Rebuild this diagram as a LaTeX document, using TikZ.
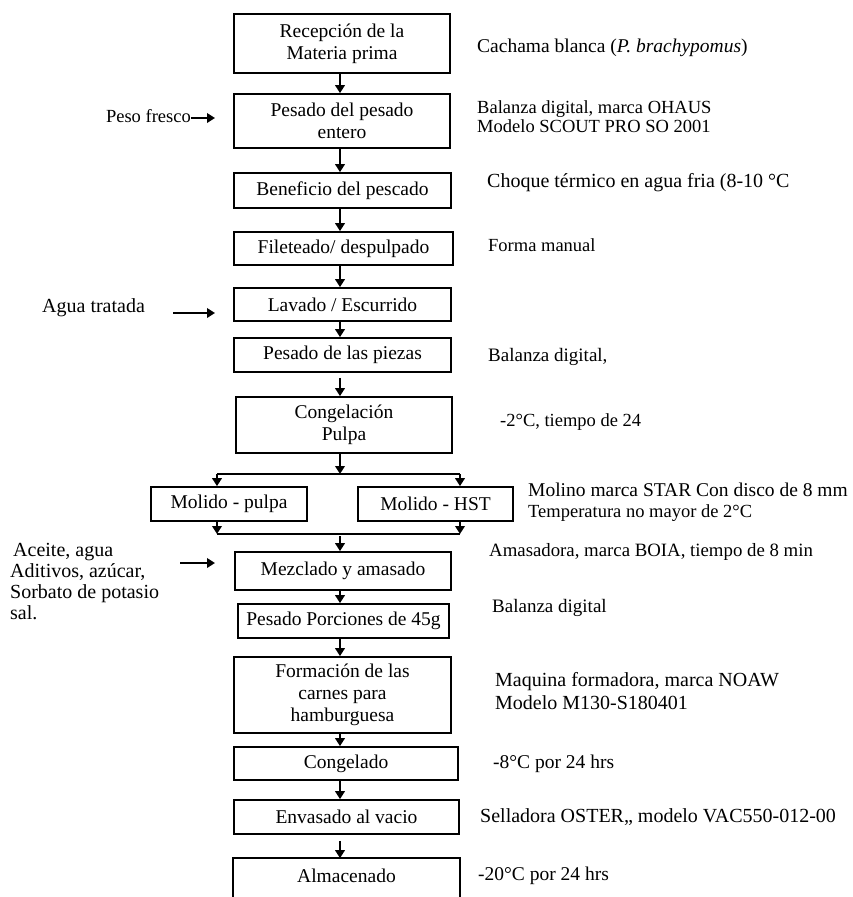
\documentclass[tikz,border=0pt]{standalone}
\usepackage{fontspec}
\setmainfont{Liberation Serif}
\usetikzlibrary{arrows.meta}
\begin{document}
\begin{tikzpicture}[x=1pt,y=-1pt,
  box/.style={draw, line width=1.7pt, inner sep=0pt, align=center, font=\fontsize{19.5}{22}\selectfont},
  lbl/.style={anchor=west, inner sep=0pt, text height=13pt, text depth=4pt, font=\fontsize{19.5}{22}\selectfont},
  arr/.style={line width=2.4pt, -{Triangle[length=8pt,width=9.5pt]}},
  conn/.style={line width=2pt},
  edge/.style={line width=1.7pt}
]
\path[use as bounding box] (0,0) rectangle (853,897);
\clip (0,0) rectangle (853,897);
\coordinate (ax) at (340,0);

% main boxes
\node[box, minimum width=216pt, minimum height=59pt] (rec) at (342,43.5) {Recepción de la\\Materia prima};
\node[box, minimum width=216pt, minimum height=54pt] (pes) at (342,121) {Pesado del pesado\\entero};
\node[box, minimum width=217pt, minimum height=35pt] (ben) at (342.5,190.5) {Beneficio del pescado};
\node[box, minimum width=219pt, minimum height=33pt] (fil) at (343.5,248.5) {Fileteado/ despulpado};
\node[box, minimum width=217pt, minimum height=33pt] (lav) at (342.5,304.5) {Lavado / Escurrido};
\node[box, minimum width=217pt, minimum height=34pt] (pie) at (342.5,355) {Pesado de las piezas};
\node[box, minimum width=216pt, minimum height=56pt] (con) at (344,425) {Congelación\\Pulpa};
\node[box, minimum width=156pt, minimum height=34pt] (mp) at (229,504) {Molido - pulpa};
\node[box, minimum width=155pt, minimum height=34pt] (mh) at (435.5,504) {Molido - HST};
\node[box, minimum width=216pt, minimum height=38pt] (mez) at (343,571) {Mezclado y amasado};
\node[box, minimum width=211pt, minimum height=34pt] (por) at (343.5,621) {Pesado Porciones de 45g};
\node[box, minimum width=217pt, minimum height=76pt] (frm) at (342.5,695) {Formación de las\\carnes para\\hamburguesa};
\node[box, minimum width=224pt, minimum height=33pt] (cgl) at (346,763.5) {Congelado};
\node[box, minimum width=225pt, minimum height=34pt] (env) at (346.5,817) {Envasado al vacio};
\node[box, draw=none, minimum width=225pt, minimum height=34pt] (alm) at (346.5,876) {Almacenado};
\draw[edge] ([yshift=-40pt]alm.south west) -- (alm.north west) -- (alm.north east) -- ([yshift=-40pt]alm.south east);

% vertical connectors
\draw[arr] (rec.south -| ax) -- (pes.north -| ax);
\draw[arr] (pes.south -| ax) -- (ben.north -| ax);
\draw[arr] (ben.south -| ax) -- (fil.north -| ax);
\draw[arr] (fil.south -| ax) -- (lav.north -| ax);
\draw[arr] (lav.south -| ax) -- (pie.north -| ax);
\draw[arr, shorten <=5pt] (pie.south -| ax) -- (con.north -| ax);

% split and join
\coordinate (sl) at (217,474);
\coordinate (sr) at (460,474);
\coordinate (jl) at (217,534);
\coordinate (jr) at (460,534);
\draw[conn] (sl) -- (sr);
\draw[arr] (con.south -| ax) -- (sl -| ax);
\draw[arr] (sl) -- (mp.north -| sl);
\draw[arr] (sr) -- (mh.north -| sr);
\draw[arr] (mp.south -| jl) -- (jl);
\draw[arr] (mh.south -| jr) -- (jr);
\draw[conn] (jl) -- (jr);
\draw[arr, shorten <=2pt] (jl -| ax) -- (mez.north -| ax);

\draw[arr] (mez.south -| ax) -- (por.north -| ax);
\draw[arr] (por.south -| ax) -- (frm.north -| ax);
\draw[arr] (frm.south -| ax) -- (cgl.north -| ax);
\draw[arr] (cgl.south -| ax) -- (env.north -| ax);
\draw[arr, shorten <=6pt] (env.south -| ax) -- (alm.north -| ax);

% left inputs
\node[lbl, anchor=east, font=\fontsize{18.5}{20}\selectfont] (pfl) at (191,118) {Peso fresco};
\coordinate (pft) at (215,118);
\draw[arr] (pfl.east) -- (pft);
\node[lbl, font=\fontsize{20}{22}\selectfont] (agua) at (42,308) {Agua tratada};
\coordinate (ag1) at (173,313);
\coordinate (ag2) at (215,313);
\draw[arr] (ag1) -- (ag2);
\node[anchor=west, inner sep=0pt, align=left, font=\fontsize{20}{21}\selectfont] (ace) at (10,582) {\hspace{3pt}Aceite, agua\\Aditivos, azúcar,\\Sorbato de potasio\\sal.};
\coordinate (ac1) at (180,563);
\coordinate (ac2) at (215,563);
\draw[arr] (ac1) -- (ac2);

% right notes
\node[lbl] (n1) at (477,48) {Cachama blanca (\textit{P. brachypomus})};
\node[lbl, font=\fontsize{18.5}{20}\selectfont] (n2a) at (477,109) {Balanza digital, marca OHAUS};
\node[lbl, font=\fontsize{18.5}{20}\selectfont] (n2b) at (477,128) {Modelo SCOUT PRO SO 2001};
\node[lbl, font=\fontsize{20}{22}\selectfont] (n3) at (487,183) {Choque térmico en agua fria (8-10 °C};
\node[lbl, font=\fontsize{18.5}{20}\selectfont] (n4) at (488,247) {Forma manual};
\node[lbl, font=\fontsize{19}{21}\selectfont] (n6) at (488,357) {Balanza digital,};
\node[lbl, font=\fontsize{18.5}{20}\selectfont] (n7) at (500,422) {-2°C, tiempo de 24};
\node[lbl] (n8a) at (528,492) {Molino marca STAR Con disco de 8 mm};
\node[lbl, font=\fontsize{18.5}{20}\selectfont] (n8b) at (528,513) {Temperatura no mayor de 2°C};
\node[lbl, font=\fontsize{18.8}{21}\selectfont] (n9) at (489,552) {Amasadora, marca BOIA, tiempo de 8 min};
\node[lbl, font=\fontsize{19}{21}\selectfont] (n10) at (492,608) {Balanza digital};
\node[lbl, font=\fontsize{20}{22}\selectfont] (n11a) at (495,682) {Maquina formadora, marca NOAW};
\node[lbl, font=\fontsize{20}{22}\selectfont] (n11b) at (495,705) {Modelo M130-S180401};
\node[lbl] (n12) at (493,764) {-8°C por 24 hrs};
\node[lbl, font=\fontsize{20}{22}\selectfont] (n13) at (480,818) {Selladora OSTER,, modelo VAC550-012-00};
\node[lbl] (n14) at (478,876) {-20°C por 24 hrs};
\end{tikzpicture}
\end{document}
